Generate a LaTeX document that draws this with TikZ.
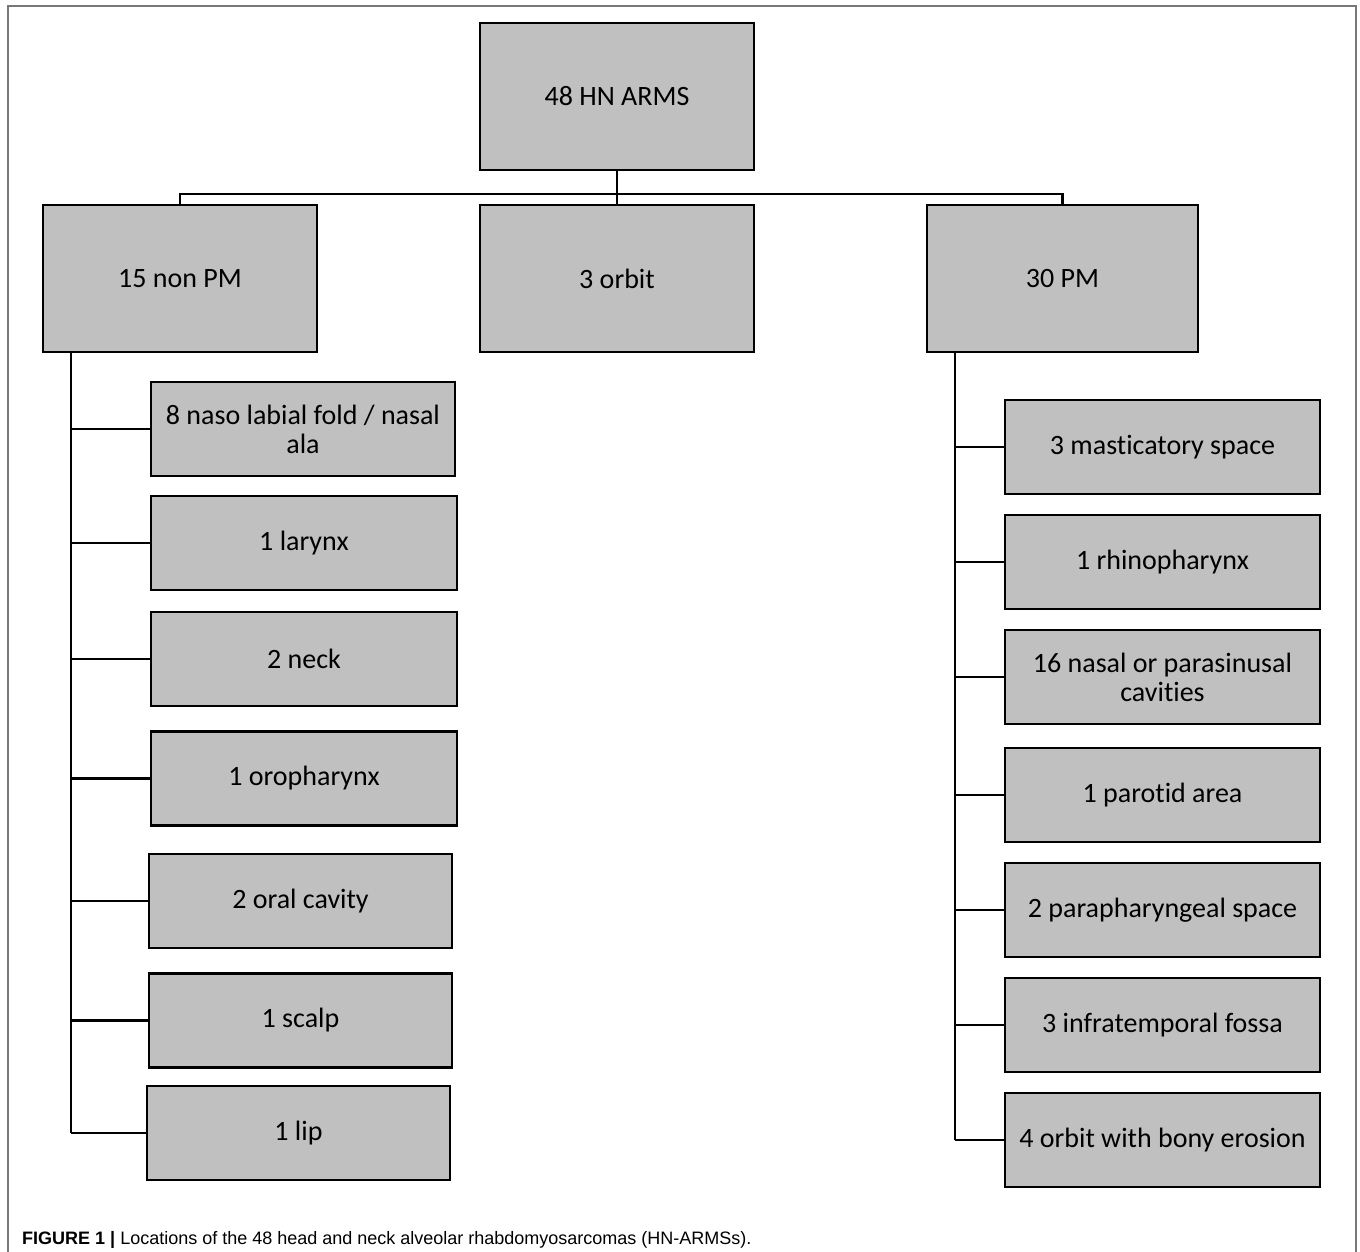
\documentclass[tikz,border=0pt]{standalone}
\usepackage{fontspec}
\setmainfont{Carlito}[Ligatures={NoCommon}]
\newfontfamily\capfont{Liberation Sans}
\usetikzlibrary{positioning}
\definecolor{boxgray}{RGB}{192,192,192}
\definecolor{framegray}{RGB}{120,120,120}
\tikzset{
  sitebox/.style={draw=black, line width=2.4pt, fill=boxgray, inner sep=0pt,
    align=center, font=\fontsize{28}{29}\selectfont},
  link/.style={line width=2.4pt}
}

\begin{document}
\begin{tikzpicture}[x=1pt,y=-1pt]
    \useasboundingbox (0,0) rectangle (1360,1252);
    \draw[framegray, line width=1.2pt] (8,1252) -- (8,6) -- (1356,6) -- (1356,1252);

    % top level
    \node[sitebox, minimum width=274, minimum height=147] (root) at (617,96.5) {48 HN ARMS};
    \node[sitebox, minimum width=274, minimum height=147] (nonpm) at (180,278.5) {15 non PM};
    \node[sitebox, minimum width=274, minimum height=147] (orbit) at (617,278.5) {3 orbit};
    \node[sitebox, minimum width=271, minimum height=147] (pm) at (1062.5,278.5) {30 PM};

    \coordinate (bus) at (617,194);
    \draw[link] (root.south) -- (bus);
    \draw[link] (nonpm.north) |- (bus) -| (pm.north);
    \draw[link] (bus) -- (orbit.north);

    % non PM sites
    \coordinate (ltop) at (71,352);
    \foreach \i/\cx/\cy/\w/\txt in {
        1/303/429/304/{8 naso labial fold / nasal\\ala},
        2/304/543/306/{1 larynx},
        3/304/659/306/{2 neck},
        4/304/778.5/306/{1 oropharynx},
        5/300.5/901/303/{2 oral cavity},
        6/300.5/1020.5/303/{1 scalp},
        7/298.5/1133/303/{1 lip}}
    {
        \node[sitebox, minimum width=\w, minimum height=94] (l\i) at (\cx,\cy) {\txt};
        \draw[link] (ltop |- l\i.west) -- (l\i.west);
    }
    \draw[link] (ltop) -- (ltop |- l7.west);

    % PM sites
    \coordinate (rtop) at (955,352);
    \foreach \i/\cy/\txt in {
        1/447/{3 masticatory space},
        2/562/{1 rhinopharynx},
        3/677/{16 nasal or parasinusal\\cavities},
        4/795/{1 parotid area},
        5/910/{2 parapharyngeal space},
        6/1025/{3 infratemporal fossa},
        7/1140/{4 orbit with bony erosion}}
    {
        \node[sitebox, minimum width=315, minimum height=94] (r\i) at (1162.5,\cy) {\txt};
        \draw[link] (rtop |- r\i.west) -- (r\i.west);
    }
    \draw[link] (rtop) -- (rtop |- r7.west);

    \node[anchor=base west, inner sep=0pt, font=\capfont\fontsize{18}{20}\selectfont] (caption) at (22,1244)
        {\textbf{FIGURE 1 |} Locations of the 48 head and neck alveolar rhabdomyosarcomas (HN-ARMSs).};
\end{tikzpicture}
\end{document}
